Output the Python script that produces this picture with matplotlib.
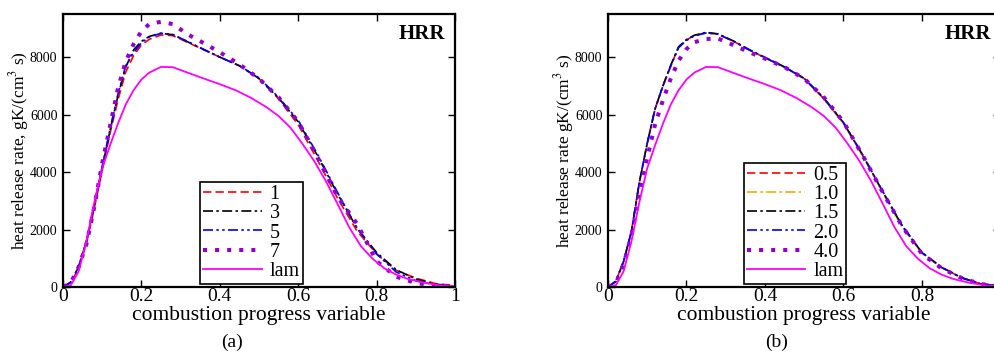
import matplotlib
matplotlib.use("Agg")
import matplotlib.pyplot as plt

plt.rcParams['font.family'] = ['Liberation Serif', 'DejaVu Serif']
plt.rcParams['mathtext.fontset'] = 'stix'

# progress variable grid
c = [0, 0.02, 0.04, 0.06, 0.08, 0.10, 0.12, 0.14, 0.16, 0.18, 0.20, 0.22, 0.25, 0.28,
     0.32, 0.36, 0.40, 0.45, 0.50, 0.55, 0.60, 0.65, 0.70, 0.75, 0.80, 0.85, 0.90, 0.95, 1.0]

# laminar profile, own grid
c_lam = [0, 0.02, 0.04, 0.06, 0.08, 0.10, 0.12, 0.14, 0.16, 0.18, 0.20, 0.22, 0.25, 0.28,
         0.32, 0.36, 0.40, 0.44, 0.48, 0.52, 0.55, 0.58, 0.61, 0.64, 0.67, 0.70, 0.73,
         0.76, 0.79, 0.82, 0.85, 0.88, 0.92, 0.96, 1.0]
lam = [0, 60, 550, 1600, 2950, 4130, 4930, 5680, 6350, 6850, 7220, 7460, 7660, 7650,
       7450, 7250, 7060, 6850, 6580, 6250, 5950, 5550, 5000, 4400, 3700, 2900, 2080,
       1420, 980, 650, 430, 280, 150, 60, 20]

# panel (a)
a_1 = [0, 150, 650, 1520, 2750, 4050, 5350, 6500, 7480, 8050, 8420, 8620, 8770, 8750,
       8500, 8250, 8000, 7700, 7250, 6550, 5650, 4400, 3100, 1950, 1150, 580, 310, 120, 50]
a_3 = [0, 170, 700, 1600, 2850, 4150, 5450, 6650, 7650, 8250, 8550, 8720, 8830, 8780,
       8520, 8260, 8000, 7700, 7260, 6580, 5750, 4550, 3250, 2050, 1200, 600, 280, 100, 30]
a_5 = [0, 170, 720, 1620, 2900, 4200, 5500, 6700, 7700, 8150, 8500, 8700, 8830, 8790,
       8530, 8260, 8000, 7700, 7280, 6600, 5800, 4600, 3300, 2050, 1150, 520, 220, 70, 20]
a_7 = [0, 150, 700, 1500, 2800, 4300, 5600, 6900, 7850, 8450, 8900, 9150, 9230, 9150,
       8780, 8480, 8170, 7750, 7250, 6600, 5750, 4500, 3150, 2200, 900, 360, 140, 50, 20]

# panel (b)
b_05 = [0, 200, 900, 1950, 3650, 5000, 6200, 7000, 7700, 8350, 8600, 8750, 8850, 8800,
        8550, 8250, 7980, 7650, 7250, 6550, 5700, 4550, 3300, 2100, 1180, 680, 330, 110, 40]
b_10 = [0, 190, 880, 1920, 3620, 4980, 6180, 6990, 7690, 8340, 8600, 8760, 8850, 8800,
        8550, 8250, 7980, 7650, 7240, 6540, 5690, 4530, 3280, 2080, 1170, 670, 320, 110, 40]
b_15 = [0, 200, 900, 1950, 3650, 5000, 6200, 7000, 7720, 8360, 8610, 8760, 8860, 8810,
        8560, 8260, 7990, 7660, 7260, 6570, 5720, 4570, 3320, 2120, 1200, 690, 330, 110, 40]
b_20 = [0, 190, 890, 1930, 3630, 4990, 6190, 6990, 7690, 8330, 8580, 8740, 8840, 8800,
        8550, 8250, 7980, 7650, 7260, 6580, 5730, 4580, 3330, 2130, 1200, 680, 320, 100, 30]
b_40 = [0, 120, 800, 1800, 3200, 4500, 5650, 6500, 7250, 7880, 8280, 8520, 8630, 8650,
        8420, 8170, 7950, 7650, 7250, 6600, 5750, 4550, 3300, 2100, 1150, 650, 320, 100, 30]

lbl_a = ["1", "3", "5", "7", "lam"]
lbl_b = ["0.5", "1.0", "1.5", "2.0", "4.0", "lam"]

dot = dict(color="#9400D3", lw=2.9, linestyle=(0, (1, 2)))
lamst = dict(color="#FF00FF", lw=1.3, linestyle="-")

fig = plt.figure(figsize=(9.95, 3.55), dpi=100)
ax1 = fig.add_axes([0.0633, 0.1915, 0.394, 0.769])
ax2 = fig.add_axes([0.611, 0.1915, 0.3945, 0.769])

ax1.plot(c, a_1, color="red", lw=1.2, linestyle=(0, (5, 2.5)), label=lbl_a[0])
ax1.plot(c, a_3, color="black", lw=1.2, linestyle=(0, (6, 2, 1.5, 2)), label=lbl_a[1])
ax1.plot(c, a_5, color="blue", lw=1.2, linestyle=(0, (6, 2, 1.5, 2, 1.5, 2)), label=lbl_a[2])
ax1.plot(c, a_7, label=lbl_a[3], **dot)
ax1.plot(c_lam, lam, label=lbl_a[4], **lamst)

ax2.plot(c, b_05, color="red", lw=1.2, linestyle=(0, (5, 2.5)), label=lbl_b[0])
ax2.plot(c, b_10, color="orange", lw=1.2, linestyle=(0, (6, 2, 1.5, 2)), label=lbl_b[1])
ax2.plot(c, b_15, color="black", lw=1.2, linestyle=(0, (6, 2, 1.5, 2)), label=lbl_b[2])
ax2.plot(c, b_20, color="blue", lw=1.2, linestyle=(0, (6, 2, 1.5, 2, 1.5, 2)), label=lbl_b[3])
ax2.plot(c, b_40, label=lbl_b[4], **dot)
ax2.plot(c_lam, lam, label=lbl_b[5], **lamst)

xt_a = ["0", "0.2", "0.4", "0.6", "0.8", "1"]
xt_b = ["0", "0.2", "0.4", "0.6", "0.8", ""]

for ax, ylab, tag, anchor, xt in [(ax1, r"heat release rate, gK/(cm$^{3}$ s)", "(a)", (0.35, 0.012), xt_a),
                                  (ax2, r"heat release rate gK/(cm$^{3}$ s)", "(b)", (0.346, 0.012), xt_b)]:
    ax.set_xlim(0, 1)
    ax.set_ylim(0, 9500)
    ax.set_xticks([0, 0.2, 0.4, 0.6, 0.8, 1.0])
    ax.set_xticklabels(xt)
    ax.set_yticks([0, 2000, 4000, 6000, 8000])
    ax.tick_params(direction="in", top=True, right=True, length=5, width=1)
    ax.tick_params(axis="x", labelsize=14, pad=1)
    ax.tick_params(axis="y", labelsize=10, pad=4)
    for s in ax.spines.values():
        s.set_linewidth(1.6)
    ax.set_xlabel("combustion progress variable", fontsize=15.5)
    ax.xaxis.set_label_coords(0.5, -0.07)
    ax.set_ylabel(ylab, fontsize=12.5, labelpad=-1)
    ax.text(0.975, 0.965, "HRR", transform=ax.transAxes, ha="right", va="top",
            fontsize=15, fontweight="bold")
    ax.text(0.43, -0.172, tag, transform=ax.transAxes, ha="center", va="top", fontsize=14)
    leg = ax.legend(loc="lower left", bbox_to_anchor=anchor, fontsize=14.5, frameon=True,
                    fancybox=False, edgecolor="black", framealpha=1, handlelength=2.9,
                    labelspacing=0.0, borderpad=0.15, handletextpad=0.4, borderaxespad=0)
    leg.get_frame().set_linewidth(1.2)

fig.savefig("out.png", dpi=100)
